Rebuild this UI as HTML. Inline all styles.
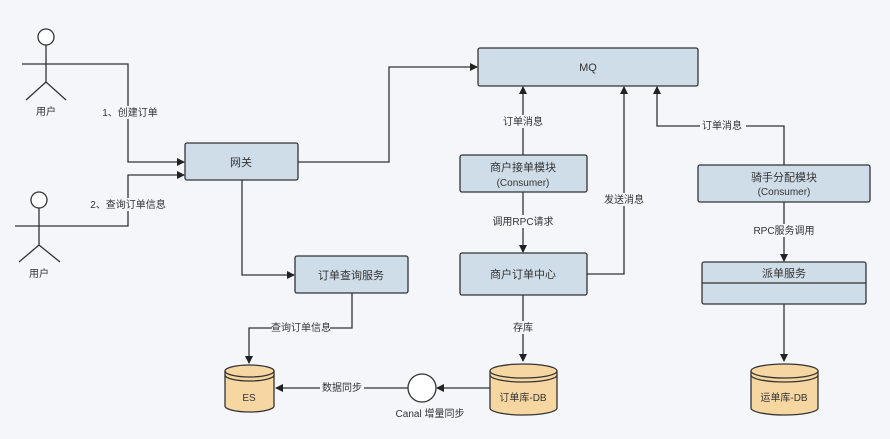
<!DOCTYPE html>
<html><head><meta charset="utf-8"><style>
body{margin:0;background:#f4f6fa;}
svg text{font-family:"Liberation Sans","Noto Sans CJK SC",sans-serif;fill:#333;}
</style></head><body>
<svg width="890" height="434" viewBox="0 0 890 434" xmlns="http://www.w3.org/2000/svg">
<defs><marker id="a" markerWidth="8" markerHeight="8" refX="7" refY="4" orient="auto" markerUnits="userSpaceOnUse"><path d="M0,0 L8,4 L0,8 z" fill="#222"/></marker></defs>
<rect width="890" height="434" fill="#f4f6fa"/>
<g stroke="#333" stroke-width="1.3" fill="none">
<!-- actors -->
<circle cx="46" cy="37" r="8" fill="#fff"/><line x1="46" y1="45" x2="46" y2="82"/><line x1="46" y1="82" x2="26" y2="100"/><line x1="46" y1="82" x2="66" y2="100"/>
<circle cx="39" cy="200" r="8" fill="#fff"/><line x1="39" y1="208" x2="39" y2="245"/><line x1="39" y1="245" x2="19" y2="262"/><line x1="39" y1="245" x2="60" y2="262"/>
<polyline points="22,64 128,64 128,162 184,162" marker-end="url(#a)"/>
<polyline points="15,226 128,226 128,175 184,175" marker-end="url(#a)"/>
<polyline points="298,162 389,162 389,67 477,67" marker-end="url(#a)"/>
<polyline points="242,180 242,275 294,275" marker-end="url(#a)"/>
<polyline points="352,293 352,328 249,328 249,363" marker-end="url(#a)"/>
<line x1="408" y1="388" x2="276" y2="388" marker-end="url(#a)"/>
<line x1="490" y1="388" x2="437" y2="388" marker-end="url(#a)"/>
<line x1="523" y1="155" x2="523" y2="87" marker-end="url(#a)"/>
<line x1="523" y1="192" x2="523" y2="252" marker-end="url(#a)"/>
<polyline points="587,274 624,274 624,87" marker-end="url(#a)"/>
<line x1="523" y1="295" x2="523" y2="361" marker-end="url(#a)"/>
<polyline points="784,165 784,126 657,126 657,87" marker-end="url(#a)"/>
<line x1="784" y1="202" x2="784" y2="261" marker-end="url(#a)"/>
<line x1="784" y1="304" x2="784" y2="361" marker-end="url(#a)"/>
</g>
<g stroke="#333" stroke-width="1.3" fill="#cfdde9">
<rect x="185" y="143" width="113" height="37" rx="2"/>
<rect x="295" y="256" width="113" height="37" rx="2"/>
<rect x="478" y="48" width="220" height="38" rx="2"/>
<rect x="460" y="155" width="127" height="37" rx="2"/>
<rect x="460" y="253" width="127" height="42" rx="2"/>
<rect x="698" y="165" width="172" height="37" rx="2"/>
<rect x="702" y="262" width="164" height="42" rx="2"/>
<line x1="702" y1="283" x2="866" y2="283"/>
</g>
<circle cx="422" cy="388" r="14" fill="#fff" stroke="#333" stroke-width="1.3"/>
<g stroke="#333" stroke-width="1.3" fill="#f6d7a2">
<path d="M225,371 L225,406 A24.5,6 0 0 0 274,406 L274,371"/>
<ellipse cx="249.5" cy="371" rx="24.5" ry="6"/>
<path d="M225,375 A24.5,6 0 0 0 274,375" fill="none"/>
<path d="M490,371 L490,408 A33.5,7 0 0 0 557,408 L557,371"/>
<ellipse cx="523.5" cy="371" rx="33.5" ry="7"/>
<path d="M490,375 A33.5,7 0 0 0 557,375" fill="none"/>
<path d="M751,371 L751,408 A33.5,7 0 0 0 818,408 L818,371"/>
<ellipse cx="784.5" cy="371" rx="33.5" ry="7"/>
<path d="M751,375 A33.5,7 0 0 0 818,375" fill="none"/>
</g>
<g font-size="10" text-anchor="middle">
<text x="46" y="115">用户</text><text x="39" y="277">用户</text>
<rect x="100" y="106" width="58" height="13" fill="#f4f6fa"/><text x="130" y="116">1、创建订单</text>
<rect x="92" y="198" width="72" height="13" fill="#f4f6fa"/><text x="128" y="208">2、查询订单信息</text>
<text x="241" y="166" font-size="11">网关</text>
<text x="351" y="279" font-size="11">订单查询服务</text>
<rect x="272" y="321" width="58" height="13" fill="#f4f6fa"/><text x="301" y="331">查询订单信息</text>
<text x="249" y="401">ES</text>
<rect x="320" y="381" width="44" height="13" fill="#f4f6fa"/><text x="342" y="391">数据同步</text>
<text x="430" y="417">Canal 增量同步</text>
<text x="588" y="71" font-size="11">MQ</text>
<rect x="500" y="115" width="46" height="13" fill="#f4f6fa"/><text x="523" y="125">订单消息</text>
<text x="523" y="171" font-size="11">商户接单模块</text><text x="523" y="186">(Consumer)</text>
<rect x="492" y="215" width="62" height="13" fill="#f4f6fa"/><text x="523" y="225">调用RPC请求</text>
<text x="523" y="278" font-size="11">商户订单中心</text>
<rect x="602" y="193" width="44" height="13" fill="#f4f6fa"/><text x="624" y="203">发送消息</text>
<rect x="500" y="321" width="46" height="13" fill="#f4f6fa"/><text x="523" y="331">存库</text>
<text x="523" y="401">订单库-DB</text>
<rect x="700" y="119" width="46" height="13" fill="#f4f6fa"/><text x="722" y="129">订单消息</text>
<text x="784" y="181" font-size="11">骑手分配模块</text><text x="784" y="195">(Consumer)</text>
<rect x="752" y="224" width="64" height="13" fill="#f4f6fa"/><text x="784" y="234">RPC服务调用</text>
<text x="784" y="277" font-size="11">派单服务</text>
<text x="784" y="401">运单库-DB</text>
</g>
</svg>
</body></html>
